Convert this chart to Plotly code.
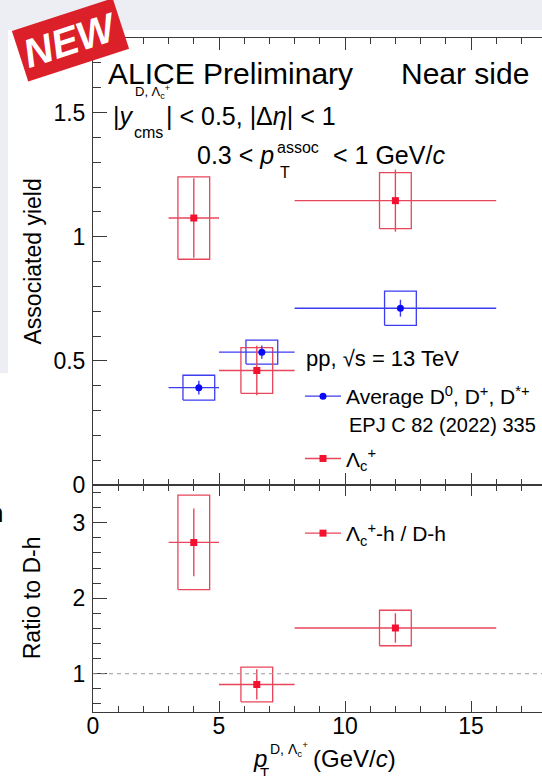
import plotly.graph_objects as go

W, H = 542, 776

# ---------------- data ----------------
bin_lo = [3, 5, 8]
bin_hi = [5, 8, 16]

d_x = [4.2, 6.7, 12.2]
d_y = [0.392, 0.535, 0.712]
d_stat = [0.028, 0.027, 0.034]
d_syst = [0.050, 0.048, 0.069]

lc_x = [4.0, 6.5, 12.0]
lc_y = [1.075, 0.461, 1.145]
lc_stat = [0.160, 0.100, 0.125]
lc_syst = [0.166, 0.092, 0.113]

ratio_x = [4.0, 6.5, 12.0]
ratio_y = [2.74, 0.858, 1.606]
ratio_stat = [0.45, 0.20, 0.195]
ratio_syst = [0.625, 0.23, 0.235]

yield_ticks = [0, 0.5, 1, 1.5]
yield_labels = ["0", "0.5", "1", "1.5"]
ratio_ticks = [1, 2, 3]
ratio_labels = ["1", "2", "3"]
pt_ticks = [0, 5, 10, 15]
pt_labels = ["0", "5", "10", "15"]

# ---------------- style ----------------
FONT = "Liberation Sans, Arial, Helvetica, sans-serif"
RED_M = "#f4102f"
RED_L = "#e8465a"
BLUE_M = "#0a0af5"
BLUE_L = "#3c3cf0"
AX = "#3a3a3a"
BOX_HW = 0.63

X_LEFT = 93
PX_PER_UNIT = 25.2
X_MAX = (W - X_LEFT) / PX_PER_UNIT
Y_TOP, Y_MID, Y_BOT = 38, 485, 711.5


def px(x):
    return x / W


def py(y):
    return 1 - y / H


def box_path(xs, ys, hs):
    bx, by = [], []
    for x, y, h in zip(xs, ys, hs):
        bx += [x - BOX_HW, x + BOX_HW, x + BOX_HW, x - BOX_HW, x - BOX_HW, None]
        by += [y - h, y - h, y + h, y + h, y - h, None]
    return bx, by


def xerr(xs, col):
    return dict(type="data", symmetric=False,
                array=[h - x for x, h in zip(xs, bin_hi)],
                arrayminus=[x - l for x, l in zip(xs, bin_lo)],
                width=0, thickness=1.4, color=col)


fig = go.Figure()

# systematic boxes
for xs, ys, hs, col, xa, ya in [
    (d_x, d_y, d_syst, BLUE_L, "x", "y"),
    (lc_x, lc_y, lc_syst, RED_L, "x", "y"),
    (ratio_x, ratio_y, ratio_syst, RED_L, "x2", "y2"),
]:
    bx, by = box_path(xs, ys, hs)
    fig.add_trace(go.Scatter(x=bx, y=by, mode="lines", xaxis=xa, yaxis=ya,
                             line=dict(color=col, width=1.3), showlegend=False,
                             hoverinfo="skip"))

# data points with stat errors
fig.add_trace(go.Scatter(x=d_x, y=d_y, mode="markers", xaxis="x", yaxis="y",
                         marker=dict(symbol="circle", size=7, color=BLUE_M),
                         error_x=xerr(d_x, BLUE_L),
                         error_y=dict(type="data", array=d_stat, width=0,
                                      thickness=1.4, color=BLUE_L),
                         showlegend=False))
fig.add_trace(go.Scatter(x=lc_x, y=lc_y, mode="markers", xaxis="x", yaxis="y",
                         marker=dict(symbol="square", size=7, color=RED_M),
                         error_x=xerr(lc_x, RED_L),
                         error_y=dict(type="data", array=lc_stat, width=0,
                                      thickness=1.4, color=RED_L),
                         showlegend=False))
fig.add_trace(go.Scatter(x=ratio_x, y=ratio_y, mode="markers", xaxis="x2", yaxis="y2",
                         marker=dict(symbol="square", size=7, color=RED_M),
                         error_x=xerr(ratio_x, RED_L),
                         error_y=dict(type="data", array=ratio_stat, width=0,
                                      thickness=1.4, color=RED_L),
                         showlegend=False))

# legend proxies
fig.add_trace(go.Scatter(x=[None], y=[None], mode="lines+markers", xaxis="x", yaxis="y",
                         name="Average D<sup>0</sup>, D<sup>+</sup>, D<sup>*+</sup>",
                         marker=dict(symbol="circle", size=7, color=BLUE_M),
                         line=dict(color=BLUE_L, width=1.4),
                         legend="legend", legendgroup="a"))
fig.add_trace(go.Scatter(x=[None], y=[None], mode="lines+markers", xaxis="x", yaxis="y",
                         name="Λ<sub>c</sub><sup>+</sup>",
                         marker=dict(symbol="square", size=7, color=RED_M),
                         line=dict(color=RED_L, width=1.4),
                         legend="legend", legendgroup="b"))
fig.add_trace(go.Scatter(x=[None], y=[None], mode="lines+markers", xaxis="x2", yaxis="y2",
                         name="Λ<sub>c</sub><sup>+</sup>-h / D-h",
                         marker=dict(symbol="square", size=7, color=RED_M),
                         line=dict(color=RED_L, width=1.4),
                         legend="legend2"))

xdom = [px(X_LEFT), 1]
dom_top = [py(Y_MID), py(Y_TOP)]
dom_bot = [py(Y_BOT), py(Y_MID)]

common_x = dict(range=[0, X_MAX], domain=xdom, showline=True, linecolor=AX, linewidth=1,
                mirror="allticks", ticks="inside", tickcolor=AX, tickwidth=1,
                tickvals=pt_ticks, showgrid=False, zeroline=False, automargin=False,
                minor=dict(dtick=1, tick0=0, ticks="inside", ticklen=6, tickcolor=AX,
                           showgrid=False))
common_y = dict(showline=True, linecolor=AX, linewidth=1, ticks="inside", tickcolor=AX,
                tickwidth=1, ticklen=14, showgrid=False, zeroline=False, automargin=False,
                tickfont=dict(size=23, color="black"), ticklabelstandoff=2)
side_y = dict(side="right", showticklabels=False, ticks="inside", ticklen=5,
              tickcolor=AX, showline=False, showgrid=False, zeroline=False,
              automargin=False)

fig.update_layout(
    template="none",
    width=W, height=H,
    margin=dict(l=0, r=0, t=0, b=0, pad=0, autoexpand=False),
    paper_bgcolor="#eceef3",
    plot_bgcolor="white",
    font=dict(family=FONT, color="black"),
    xaxis=dict(common_x, anchor="y", showticklabels=False, ticklen=12),
    xaxis2=dict(common_x, anchor="y2", ticklen=11, ticktext=pt_labels,
                tickfont=dict(size=23, color="black"), ticklabelstandoff=-6),
    yaxis=dict(common_y, domain=dom_top, anchor="x", range=[0, 1.8],
               tickvals=yield_ticks, ticktext=yield_labels,
               minor=dict(dtick=0.1, tick0=0, ticks="inside", ticklen=8, tickcolor=AX,
                          showgrid=False)),
    yaxis2=dict(common_y, domain=dom_bot, anchor="x2", range=[0.5, 3.5],
                tickvals=ratio_ticks, ticktext=ratio_labels,
                minor=dict(dtick=0.2, tick0=0, ticks="inside", ticklen=8, tickcolor=AX,
                           showgrid=False)),
    yaxis3=dict(side_y, overlaying="y", anchor="x", range=[0, 1.8],
                tickvals=yield_ticks[1:]),
    yaxis4=dict(side_y, overlaying="y2", anchor="x2", range=[0.5, 3.5],
                tickvals=ratio_ticks),
    legend=dict(x=px(300), y=py(376), xanchor="left", yanchor="top",
                bgcolor="rgba(0,0,0,0)", font=dict(size=21, color="black"),
                itemwidth=36, tracegroupgap=32, traceorder="grouped"),
    legend2=dict(x=px(300), y=py(513), xanchor="left", yanchor="top",
                 bgcolor="rgba(0,0,0,0)", font=dict(size=21, color="black"),
                 itemwidth=36),
)

# dashed reference line at ratio 1
fig.add_shape(type="line", xref="x2 domain", yref="y2", x0=0, x1=1, y0=1, y1=1,
              line=dict(color="#9a9a9a", width=1, dash="4px,4px"))

# white slide area behind the figure
fig.add_shape(type="rect", xref="paper", yref="paper", x0=px(8), x1=1, y0=0, y1=py(30),
              fillcolor="white", line_width=0, layer="below")
fig.add_shape(type="rect", xref="paper", yref="paper", x0=0, x1=px(9), y0=0, y1=py(373),
              fillcolor="white", line_width=0, layer="below")


def txt(s, x, y, size, anchor="left", **kw):
    fig.add_annotation(text=s, x=px(x), y=py(y), xref="paper", yref="paper",
                       xanchor=anchor, yanchor="middle", showarrow=False,
                       font=dict(size=size, family=FONT, color=kw.pop("color", "black")),
                       **kw)


txt("ALICE Preliminary", 106, 73, 30)
txt("Near side", 399, 73, 30)

txt("|<i>y</i>", 111, 116, 25)
txt("D, Λ<sub>c</sub><sup>+</sup>", 133, 92, 13)
txt("cms", 132, 132, 16)
txt("| < 0.5, |Δ<i>η</i>| < 1", 164, 116, 25)

txt("0.3 < <i>p</i>", 195, 155, 25)
txt("assoc", 275, 147, 16)
txt("T", 278, 172, 16)
txt("< 1 GeV/<i>c</i>", 331, 155, 25)

txt("pp, √s = 13 TeV", 304, 358, 22)
txt("EPJ C 82 (2022) 335", 347, 425, 20)

txt("Associated yield", 32, (Y_TOP + Y_MID) / 2, 23, anchor="center", textangle=-90)
txt("Ratio to D-h", 32, (Y_MID + Y_BOT) / 2, 23, anchor="center", textangle=-90)

txt("<i>p</i>", 251, 758, 24)
txt("D, Λ<sub>c</sub><sup>+</sup>", 268, 749, 14)
txt("T", 258, 772, 15)
txt("(GeV/<i>c</i>)", 311, 758, 24)

# fragment of slide text at the left edge
txt("h", 5, 513, 26, anchor="right")

# "NEW" badge
fig.add_annotation(text="<b><i>NEW</i></b>", x=px(70), y=py(40), xref="paper", yref="paper",
                   xanchor="center", yanchor="middle",
                   showarrow=False, textangle=-18, bgcolor="#dc2029", borderpad=4,
                   font=dict(size=40, color="white", family=FONT))

fig.write_html("out.html",
               post_script="document.body.style.margin='0';"
                           "document.body.style.overflow='hidden';")
